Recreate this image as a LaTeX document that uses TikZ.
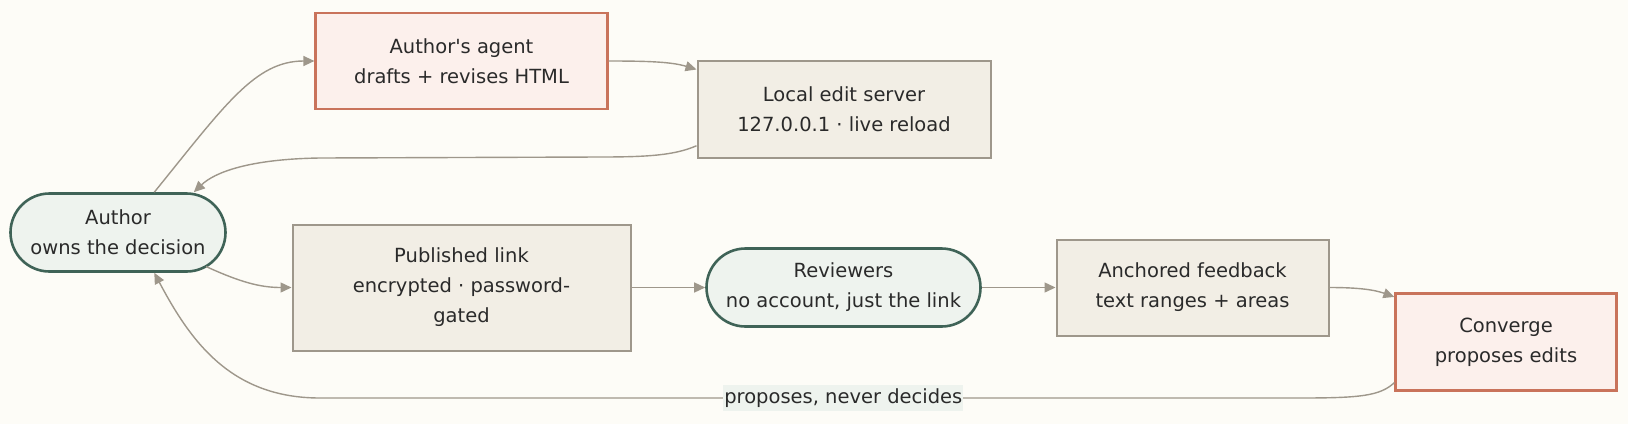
\documentclass[tikz,border=0pt]{standalone}
\usepackage{fontspec}
\setmainfont{DejaVu Sans}[Ligatures=TeXOff]
\usepackage{tikz}
\usetikzlibrary{arrows.meta,calc}

\definecolor{paper}{HTML}{FDFCF7}
\definecolor{clay}{HTML}{C9735B}
\definecolor{clayfill}{HTML}{FCF0EC}
\definecolor{stone}{HTML}{9E978B}
\definecolor{stonefill}{HTML}{F2EEE5}
\definecolor{pine}{HTML}{3F6357}
\definecolor{pinefill}{HTML}{EEF3EE}
\definecolor{ink}{HTML}{2A2A2A}

\begin{document}
\begin{tikzpicture}[x=1pt, y=-1pt, >={Triangle[length=11pt,width=10pt]}]
   \tikzstyle{every node} = [font=\fontsize{19.5}{30}\selectfont, text=ink, align=center, inner sep=0pt];
   \tikzstyle{agentbox} = [rectangle, draw=clay, fill=clayfill, line width=2.2pt];
   \tikzstyle{plainbox} = [rectangle, draw=stone, fill=stonefill, line width=2pt];
   \tikzstyle{person} = [rectangle, rounded corners=39pt, draw=pine, fill=pinefill, line width=2.6pt];
   \tikzstyle{flow} = [draw=stone, line width=1.4pt];
   \fill[paper] (0,0) rectangle (1628,424);
   \useasboundingbox (0,0) rectangle (1628,424);
   % nodes
   \node[person, minimum width=215, minimum height=78]     (author)    at (118,232.5)  {Author\\owns the decision};
   \node[agentbox, minimum width=292, minimum height=96]   (agent)     at (461.5,61)   {Author's agent\\drafts + revises HTML};
   \node[plainbox, minimum width=293, minimum height=97]   (server)    at (844,109)    {Local edit server\\127.0.0.1 · live reload};
   \node[plainbox, minimum width=338, minimum height=126]  (link)      at (461.5,287.5) {Published link\\encrypted · password-\\gated};
   \node[person, minimum width=274, minimum height=78]     (reviewers) at (843.5,287.5) {Reviewers\\no account, just the link};
   \node[plainbox, minimum width=272, minimum height=96]   (feedback)  at (1192.5,287.5) {Anchored feedback\\text ranges + areas};
   \node[agentbox, minimum width=221, minimum height=97]   (converge)  at (1506,342)   {Converge\\proposes edits};
   % connectors
   \draw[->, flow] (author.48.5) .. controls (225,105) and (255,61) .. (agent.west);
   \draw[->, flow] (agent.east) .. controls (650,61) and (672,62) .. (server.165);
   \draw[->, flow] (server.194.5) .. controls (675,155) and (650,157) .. (600,157)
                   -- (320,158) .. controls (250,159) and (215,172) .. (author.28);
   \draw[->, flow] ($(author.center)+(88,34)$) .. controls (240,282) and (260,287.5) .. (link.west);
   \draw[->, flow] (link) -- (reviewers);
   \draw[->, flow] (reviewers) -- (feedback);
   \draw[->, flow] (feedback.east) .. controls (1360,287.5) and (1375,290) .. (converge.158.4);
   \draw[->, flow] (converge.200.7) .. controls (1380,396) and (1360,398) .. (1300,398)
                   -- node[pos=0.466, fill=pinefill, inner xsep=1pt, inner ysep=4pt] (verdict) {proposes, never decides} (320,398)
                   .. controls (230,398) and (190,340) .. (author.-48.5);
\end{tikzpicture}
\end{document}
